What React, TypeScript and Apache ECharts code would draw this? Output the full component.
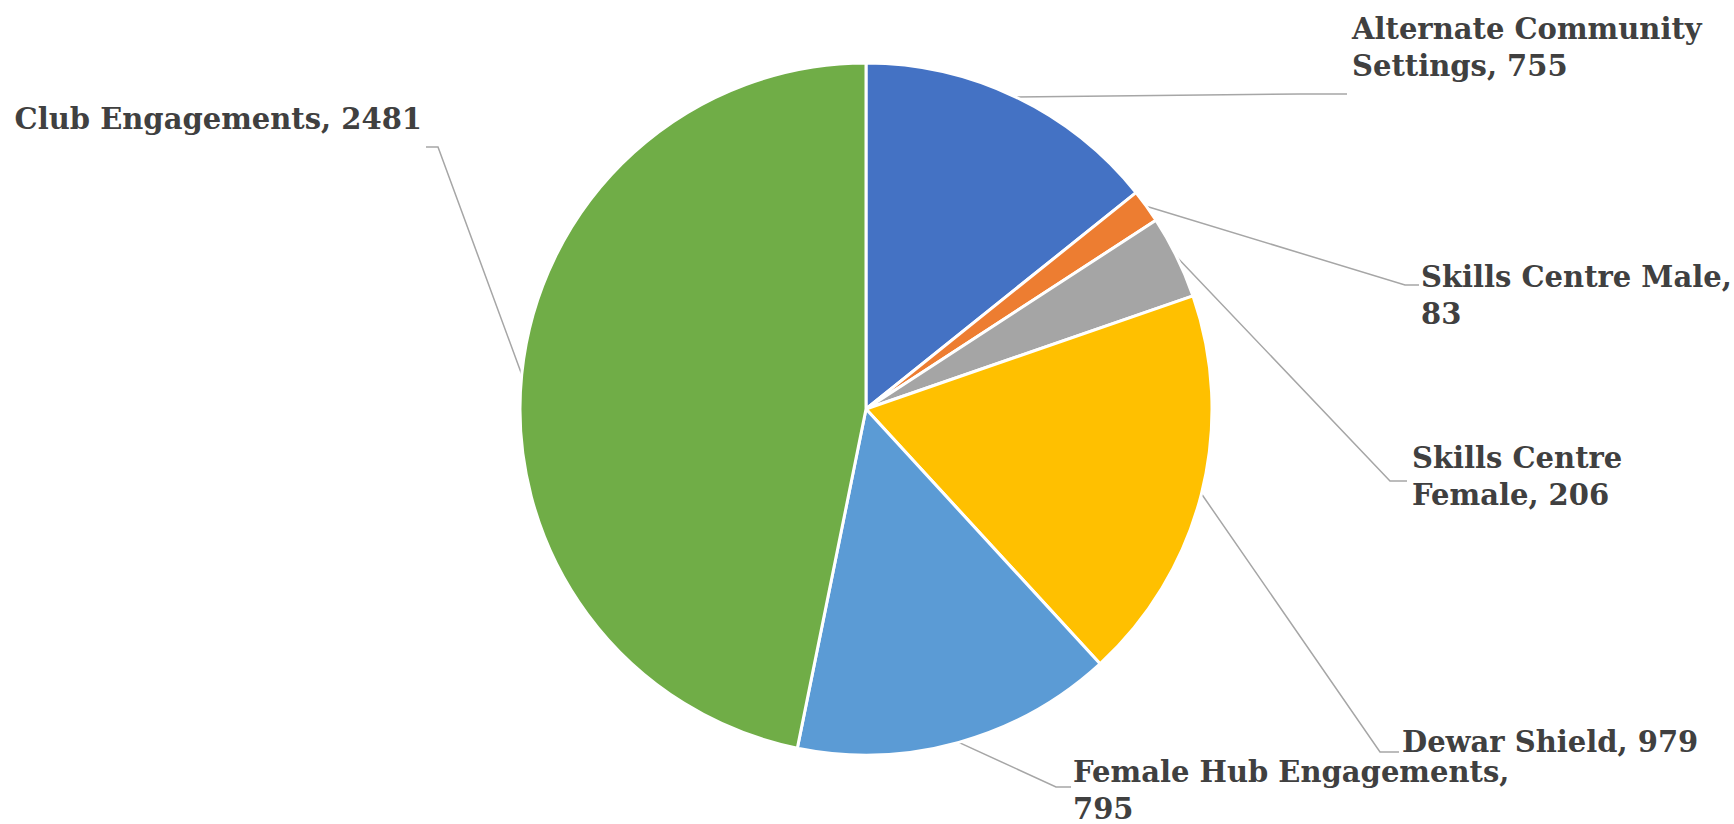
import React, { useEffect, useRef } from "react";
import * as echarts from "echarts";

const categories = [
  "Alternate Community Settings",
  "Skills Centre Male",
  "Skills Centre Female",
  "Dewar Shield",
  "Female Hub Engagements",
  "Club Engagements",
];
const values = [755, 83, 206, 979, 795, 2481];
const colors = ["#4472C4", "#ED7D31", "#A5A5A5", "#FFC000", "#5B9BD5", "#70AD47"];
// number of words on the first line of each label
const firstLineWords = [2, 3, 2, 3, 3, 3];

// label layout (pixels): text anchor, leader elbow and leader end
const labelLayouts = [
  { x: 1352, y: 10, align: "left", elbow: [1300, 94], end: [1347, 94] },
  { x: 1421, y: 258, align: "left", elbow: [1405, 285], end: [1419, 285] },
  { x: 1412, y: 439, align: "left", elbow: [1390, 481], end: [1407, 481] },
  { x: 1402, y: 723, align: "left", elbow: [1380, 752], end: [1399, 752] },
  { x: 1073, y: 753, align: "left", elbow: [1056, 787], end: [1071, 787] },
  { x: 422, y: 100, align: "right", elbow: [438, 147], end: [426, 147] },
];

function wrapLabel(name: string, value: number, idx: number) {
  const words = `${name}, ${value}`.split(" ");
  const n = firstLineWords[idx];
  const a = words.slice(0, n).join(" ");
  const b = words.slice(n).join(" ");
  return b ? `${a}\n${b}` : a;
}

export default function App() {
  const ref = useRef<HTMLDivElement>(null);
  useEffect(() => {
    if (!ref.current) return;
    const chart = echarts.init(ref.current, undefined, { renderer: "svg" });
    chart.setOption({
      animation: false,
      backgroundColor: "#ffffff",
      series: [
        {
          type: "pie",
          center: [866, 409],
          radius: 346,
          startAngle: 90,
          clockwise: true,
          avoidLabelOverlap: false,
          itemStyle: { borderColor: "#ffffff", borderWidth: 3 },
          data: categories.map((c, i) => ({
            name: c,
            value: values[i],
            itemStyle: { color: colors[i] },
          })),
          label: {
            show: true,
            position: "outside",
            formatter: (p: any) => wrapLabel(p.name, p.value, p.dataIndex),
            fontFamily: "DejaVu Serif",
            fontWeight: "bold",
            fontSize: 29,
            lineHeight: 37,
            color: "#404040",
          },
          labelLine: {
            show: true,
            lineStyle: { color: "#A6A6A6", width: 1.5 },
          },
          labelLayout: (params: any) => {
            const l = labelLayouts[params.dataIndex];
            const start = params.labelLinePoints
              ? params.labelLinePoints[0]
              : [866, 409];
            return {
              x: l.x,
              y: l.y,
              align: l.align,
              verticalAlign: "top",
              labelLinePoints: [start, l.elbow, l.end],
            };
          },
        },
      ],
    });
    return () => chart.dispose();
  }, []);
  return (
    <div
      ref={ref}
      style={{ position: "fixed", left: 0, top: 0, width: "1734px", height: "824px" }}
    />
  );
}
